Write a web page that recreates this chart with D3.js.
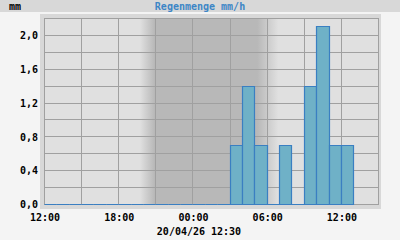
<!DOCTYPE html>
<html>
<head>
<meta charset="utf-8">
<script src="https://cdn.jsdelivr.net/npm/d3@7"></script>
<style>
  body { margin: 0; background: #f4f4f4; }
  svg { display: block; }
  text { font-family: "DejaVu Sans Mono", monospace; font-weight: bold; font-size: 10px; }
</style>
</head>
<body>
<div class="visHolder"></div>
<script>
var width = 400,
  height = 240;

// hourly rain amounts, starting 19/04/26 12:00
var startTime = new Date(2026, 3, 19, 12, 0);
var endTime = new Date(2026, 3, 20, 15, 0);
var rain = [0, 0, 0, 0, 0, 0, 0, 0, 0, 0, 0, 0, 0, 0, 0,
  0.7, 1.4, 0.7, 0, 0.7, 0, 1.4, 2.1, 0.7, 0.7];
var yTicks = [0, 0.4, 0.8, 1.2, 1.6, 2.0];
var xTickHours = [0, 6, 12, 18, 24];
// night shading: dusk start, dark start, dark end, dawn end (hours after start)
var night = [7.7, 8.9, 17.2, 18.9];

var title = 'Regenmenge mm/h';
var unit = 'mm';
var stamp = '20/04/26 12:30';

var hour = 3600 * 1000;

var svg = d3.select('.visHolder')
  .append('svg')
  .attr('width', width)
  .attr('height', height);

// title bar
svg.append('rect')
  .attr('x', 0).attr('y', 0)
  .attr('width', width).attr('height', 12)
  .style('fill', '#d8d8d8');
svg.append('text')
  .attr('x', 200).attr('y', 10)
  .attr('text-anchor', 'middle')
  .style('fill', '#3d86c6')
  .text(title);
svg.append('text')
  .attr('x', 9).attr('y', 10)
  .style('fill', '#000')
  .text(unit);

var xScale = d3.scaleTime()
  .domain([startTime, endTime])
  .range([44.5, 378.5]);

var yScale = d3.scaleLinear()
  .domain([0, 2.2])
  .range([204.5, 18.5]);

// outer frame
svg.append('rect')
  .attr('x', 40).attr('y', 14)
  .attr('width', 341).attr('height', 195)
  .style('fill', '#d8d8d8');

// plot background
svg.append('rect')
  .attr('x', 44.5).attr('y', 18.5)
  .attr('width', 334).attr('height', 186)
  .style('fill', '#e0e0e0');

// night gradient
var defs = svg.append('defs');
var grad = defs.append('linearGradient')
  .attr('id', 'night')
  .attr('gradientUnits', 'userSpaceOnUse')
  .attr('x1', xScale(new Date(+startTime + night[0] * hour)))
  .attr('x2', xScale(new Date(+startTime + night[3] * hour)))
  .attr('y1', 0).attr('y2', 0);
var span = night[3] - night[0];
grad.append('stop').attr('offset', 0).attr('stop-color', '#e0e0e0');
grad.append('stop').attr('offset', (night[1] - night[0]) / span).attr('stop-color', '#b8b8b8');
grad.append('stop').attr('offset', (night[2] - night[0]) / span).attr('stop-color', '#b8b8b8');
grad.append('stop').attr('offset', 1).attr('stop-color', '#e0e0e0');

svg.append('rect')
  .attr('x', xScale(new Date(+startTime + night[0] * hour)))
  .attr('y', 18.5)
  .attr('width', xScale(new Date(+startTime + night[3] * hour)) - xScale(new Date(+startTime + night[0] * hour)))
  .attr('height', 186)
  .style('fill', 'url(#night)');

// grid
var gridX = d3.range(0, 28, 3).map(function (h) { return new Date(+startTime + h * hour); });
svg.append('g')
  .selectAll('line')
  .data(gridX)
  .enter()
  .append('line')
  .attr('x1', function (d) { return Math.round(xScale(d) - 0.5) + 0.5; })
  .attr('x2', function (d) { return Math.round(xScale(d) - 0.5) + 0.5; })
  .attr('y1', 18.5).attr('y2', 204.5)
  .style('stroke', '#a0a0a0');

var gridY = d3.range(0, 2.3, 0.2);
svg.append('g')
  .selectAll('line')
  .data(gridY)
  .enter()
  .append('line')
  .attr('x1', 44.5).attr('x2', 378.5)
  .attr('y1', function (d) { return Math.round(yScale(d) - 0.5) + 0.5; })
  .attr('y2', function (d) { return Math.round(yScale(d) - 0.5) + 0.5; })
  .style('stroke', '#a0a0a0');

svg.append('rect')
  .attr('x', 44.5).attr('y', 18.5)
  .attr('width', 334).attr('height', 186)
  .style('fill', 'none')
  .style('stroke', '#a0a0a0');

// bars
svg.append('g')
  .selectAll('path')
  .data(rain)
  .enter()
  .append('path')
  .attr('d', function (d, i) {
    var x0 = Math.round(xScale(new Date(+startTime + i * hour)) - 0.5) + 0.5;
    var x1 = Math.round(xScale(new Date(+startTime + (i + 1) * hour)) - 0.5) + 0.5;
    var y0 = 204.5;
    var y1 = Math.round(yScale(d) - 0.5) + 0.5;
    return 'M' + x0 + ',' + y0 + 'V' + y1 + 'H' + x1 + 'V' + y0 + 'Z';
  })
  .style('fill', '#6fb1c7')
  .style('stroke', '#3a7fc2')
  .style('stroke-width', 1.2);

// axes (labels only)
var xAxis = d3.axisBottom(xScale)
  .tickValues(xTickHours.map(function (h) { return new Date(+startTime + h * hour); }))
  .tickFormat(d3.timeFormat('%H:%M'))
  .tickSize(0)
  .tickPadding(4);

svg.append('g')
  .attr('transform', 'translate(0, 210)')
  .call(xAxis)
  .call(function (g) { g.select('.domain').remove(); })
  .selectAll('text')
  .attr('dy', '0.71em')
  .style('fill', '#000')
  .style('font-size', '10px')
  .style('font-family', '"DejaVu Sans Mono", monospace');

var yAxis = d3.axisLeft(yScale)
  .tickValues(yTicks)
  .tickFormat(function (d) { return d3.format('.1f')(d).replace('.', ','); })
  .tickSize(0)
  .tickPadding(7);

svg.append('g')
  .attr('transform', 'translate(45, 0)')
  .call(yAxis)
  .call(function (g) { g.select('.domain').remove(); })
  .selectAll('text')
  .style('fill', '#000')
  .style('font-size', '10px')
  .style('font-family', '"DejaVu Sans Mono", monospace');

svg.append('text')
  .attr('x', 199).attr('y', 235)
  .attr('text-anchor', 'middle')
  .style('fill', '#000')
  .text(stamp);
</script>
</body>
</html>
